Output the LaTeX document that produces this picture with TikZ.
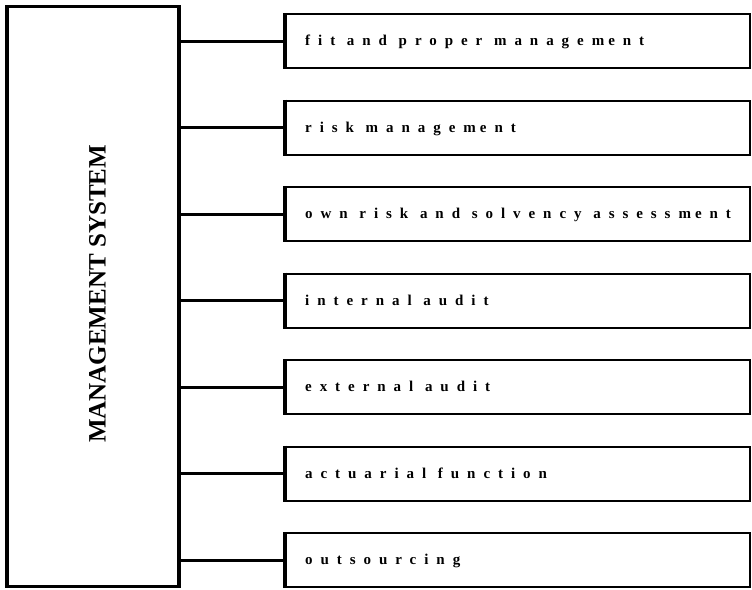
\documentclass[tikz,border=0pt]{standalone}
\usepackage{fontspec}
\setmainfont{Liberation Serif}
\begin{document}
\begin{tikzpicture}[x=1pt,y=-1pt,
  mainbox/.style={draw=black,line width=3.5pt,minimum width=172pt,minimum height=580pt,inner sep=0pt},
  itembox/.style={draw=black,line width=2.2pt,minimum width=464pt,minimum height=54pt,inner sep=0pt,anchor=north west},
  itemtext/.style={anchor=base west,inner sep=0pt,font=\fontsize{15}{17}\selectfont\bfseries\addfontfeatures{LetterSpace=53}},
  conn/.style={draw=black,line width=3pt}]
\useasboundingbox (0,0) rectangle (752,589);
\node[mainbox] (main) at (93,296.5) {};
\node[rotate=90,font=\fontsize{25}{30}\selectfont\bfseries] (mtext) at (97.5,294) {MANAGEMENT SYSTEM};
\foreach \i/\t in {0/{fit and proper managem\hspace{4pt}ent},1/{risk managem\hspace{4pt}ent},2/{own risk and solvency assessm\hspace{4pt}ent},3/{internal audit},4/{external audit},5/{actuarial function},6/{outsourcing}}{
  \node[itembox] (b\i) at (285,13+86.5*\i) {};
  \draw[line width=4.5pt] (b\i.north west) -- (b\i.south west);
  \node[itemtext] (t\i) at ([xshift=20pt,yshift=-4.5pt]b\i.west) {\t};
  \draw[conn] (main.east |- b\i.west) -- (b\i.west);
}
\end{tikzpicture}
\end{document}
